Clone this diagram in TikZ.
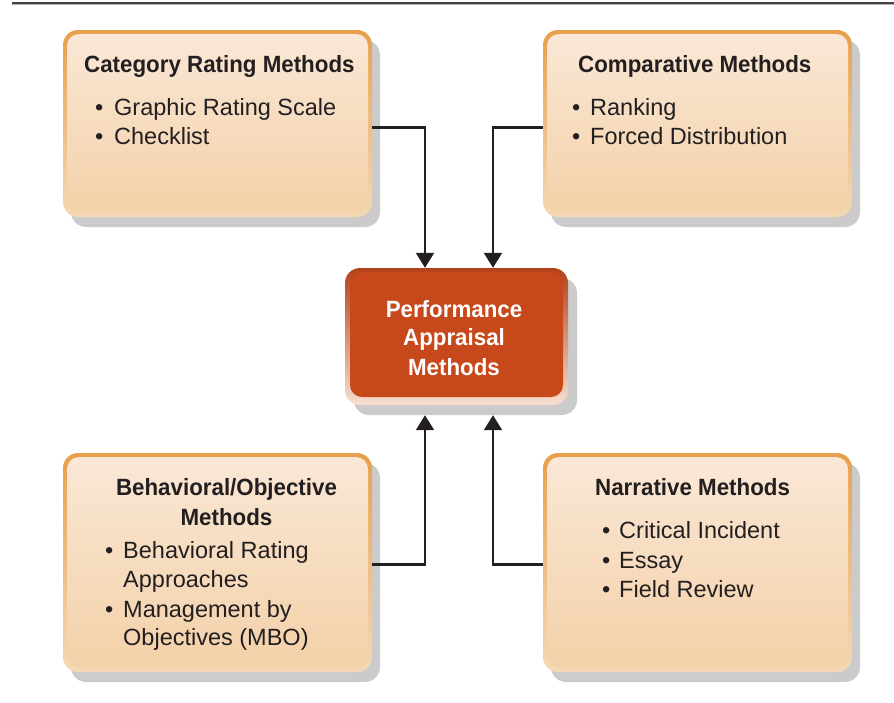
\documentclass[tikz,border=0pt]{standalone}
\usepackage{fontspec}
\setmainfont{Liberation Sans}[BoldFeatures={FakeStretch=0.95}]
\usetikzlibrary{shadows,arrows.meta}
\definecolor{ink}{HTML}{231F20}
\definecolor{orTop}{HTML}{E7A04C}
\definecolor{orBot}{HTML}{F5D8B6}
\definecolor{inTop}{HTML}{FAE8D7}
\definecolor{inBot}{HTML}{F3D0A7}
\definecolor{rdTop}{HTML}{B3421A}
\definecolor{rdBot}{HTML}{F7DFD0}
\definecolor{rdIn}{HTML}{C7481A}
\definecolor{shd}{HTML}{CBCBCB}
\tikzset{
  catbox/.style={draw=none, rounded corners=15pt, top color=orTop, bottom color=orBot,
    drop shadow={shadow xshift=8pt, shadow yshift=-10pt, fill=shd, opacity=1},
    path picture={\shade[rounded corners=12pt, top color=inTop, bottom color=inBot]
      ([shift={(4pt,-4pt)}]path picture bounding box.north west) rectangle
      ([shift={(-4pt,5pt)}]path picture bounding box.south east);}},
  centbox/.style={draw=none, rounded corners=15pt, top color=rdTop, bottom color=rdBot,
    drop shadow={shadow xshift=9pt, shadow yshift=-10pt, fill=shd, opacity=1},
    path picture={\fill[rdIn, rounded corners=12pt]
      ([shift={(5pt,-4pt)}]path picture bounding box.north west) rectangle
      ([shift={(-5pt,8pt)}]path picture bounding box.south east);}},
  ttl/.style={inner sep=0pt, anchor=base west, text=ink, font=\bfseries\fontsize{23.5}{27}\selectfont},
  ttlc/.style={inner sep=0pt, anchor=base, text=ink, font=\bfseries\fontsize{23.5}{27}\selectfont},
  itm/.style={inner sep=0pt, anchor=base west, text=ink, font=\fontsize{23.5}{27}\selectfont},
  ctr/.style={inner sep=0pt, anchor=base, text=white, font=\bfseries\fontsize{23.5}{27}\selectfont},
  arr/.style={draw=ink, line width=2.2pt, -{Triangle[width=18pt,length=15pt]}}
}
\begin{document}
\begin{tikzpicture}[x=1pt,y=-1pt]
\useasboundingbox (0,0) rectangle (894,702);
% top rule
\coordinate (r1) at (12,3);
\coordinate (r2) at (894,3);
\draw[line width=2pt, color=ink!85] (r1) -- (r2);
\draw[line width=0.8pt, color=gray!60] ([yshift=-1.6pt]r1) -- ([yshift=-1.6pt]r2);

% boxes
\node[catbox, minimum width=309pt, minimum height=187pt] (cat) at (217.5,123.5) {};
\node[catbox, minimum width=309pt, minimum height=187pt] (cmp) at (697.5,123.5) {};
\node[catbox, minimum width=309pt, minimum height=219pt] (beh) at (217.5,562.5) {};
\node[catbox, minimum width=309pt, minimum height=219pt] (nar) at (697.5,562.5) {};
\node[centbox, minimum width=223pt, minimum height=137pt] (pam) at (456.5,336.5) {};

% texts: category
\node[ttl] (t1) at (84,72) {Category Rating Methods};
\node[itm] (b11) at (95,115) {•};
\node[itm] (i11) at (114,115) {Graphic Rating Scale};
\node[itm] (b12) at (95,144) {•};
\node[itm] (i12) at (114,144) {Checklist};
% comparative
\node[ttl] (t2) at (578,72) {Comparative Methods};
\node[itm] (b21) at (572,115) {•};
\node[itm] (i21) at (590,115) {Ranking};
\node[itm] (b22) at (572,144) {•};
\node[itm] (i22) at (590,144) {Forced Distribution};
% behavioral
\node[ttlc] (t3a) at (226.5,495) {Behavioral/Objective};
\node[ttlc] (t3b) at (226.5,525) {Methods};
\node[itm] (b31) at (105,558) {•};
\node[itm] (i31) at (123,558) {Behavioral Rating};
\node[itm] (i31b) at (123,587) {Approaches};
\node[itm] (b32) at (105,617) {•};
\node[itm] (i32) at (123,617) {Management by};
\node[itm] (i32b) at (123,645) {Objectives (MBO)};
% narrative
\node[ttl] (t4) at (595,495) {Narrative Methods};
\node[itm] (b41) at (602,538) {•};
\node[itm] (i41) at (619,538) {Critical Incident};
\node[itm] (b42) at (602,568) {•};
\node[itm] (i42) at (619,568) {Essay};
\node[itm] (b43) at (602,597) {•};
\node[itm] (i43) at (619,597) {Field Review};
% center
\node[ctr] (c1) at (454,317) {Performance};
\node[ctr] (c2) at (454,345) {Appraisal};
\node[ctr] (c3) at (454,375) {Methods};

% connectors
\draw[arr] ([yshift=-4pt]cat.east) -| ([xshift=-31.5pt]pam.north);
\draw[arr] ([yshift=-4pt]cmp.west) -| ([xshift=36.5pt]pam.north);
\draw[arr] ([yshift=-2pt]beh.east) -| ([xshift=-31.5pt,yshift=-10pt]pam.south);
\draw[arr] ([yshift=-2pt]nar.west) -| ([xshift=36.5pt,yshift=-10pt]pam.south);
\end{tikzpicture}
\end{document}
